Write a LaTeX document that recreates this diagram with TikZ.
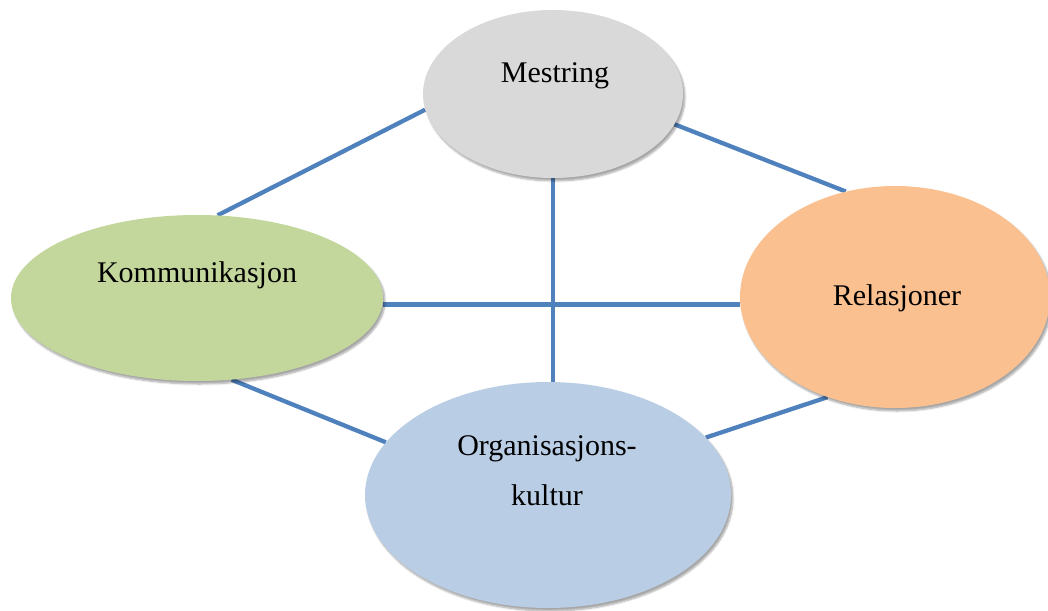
\documentclass[tikz,border=0pt]{standalone}
\usepackage{fontspec}
\setmainfont{Liberation Serif}
\usetikzlibrary{shapes.geometric,backgrounds,shadows.blur}
\definecolor{linkblue}{HTML}{4F81BD}
\definecolor{grayfill}{HTML}{D9D9D9}
\definecolor{greenfill}{HTML}{C3D69B}
\definecolor{orangefill}{HTML}{FAC090}
\definecolor{bluefill}{HTML}{B9CDE5}
\begin{document}
\begin{tikzpicture}[x=1pt,y=-1pt,
  bubble/.style={ellipse, draw=none, inner sep=0pt,
    blur shadow={shadow xshift=2pt, shadow yshift=-3pt, shadow blur steps=6, shadow opacity=35}},
  link/.style={draw=linkblue, line width=4.3pt},
  lbl/.style={anchor=base, inner sep=0pt, font=\fontsize{30}{36}\selectfont}]
\useasboundingbox (0,0) rectangle (1048,610);

% the four themes
\node[bubble, fill=grayfill,   minimum width=260pt, minimum height=168pt] (m) at (553,94)  {};
\node[bubble, fill=greenfill,  minimum width=372pt, minimum height=166pt] (k) at (197,298) {};
\node[bubble, fill=orangefill, minimum width=310pt, minimum height=222pt] (r) at (895,297) {};
\node[bubble, fill=bluefill,   minimum width=366pt, minimum height=226pt] (o) at (548,495) {};

% labels
\node[lbl] (mt)  at (555,82)  {Mestring};
\node[lbl] (kt)  at (197,282) {Kommunikasjon};
\node[lbl] (rt)  at (897,305) {Relasjoner};
\node[lbl] (ot1) at (547,455) {Organisasjons-};
\node[lbl] (ot2) at (547,505) {kultur};

% connections behind the ellipses
\begin{scope}[on background layer]
  \draw[link] (m.187) -- (k.76);
  \draw[link] (m.346) -- (r.115);
  \draw[link] (m.south) -- (m.south |- o.north);
  \draw[link] (k.-2) -- (k.-2 -| r.west);
  \draw[link] (k.293) -- (o.162);
  \draw[link] (r.236) -- (o.20);
\end{scope}
\end{tikzpicture}
\end{document}
